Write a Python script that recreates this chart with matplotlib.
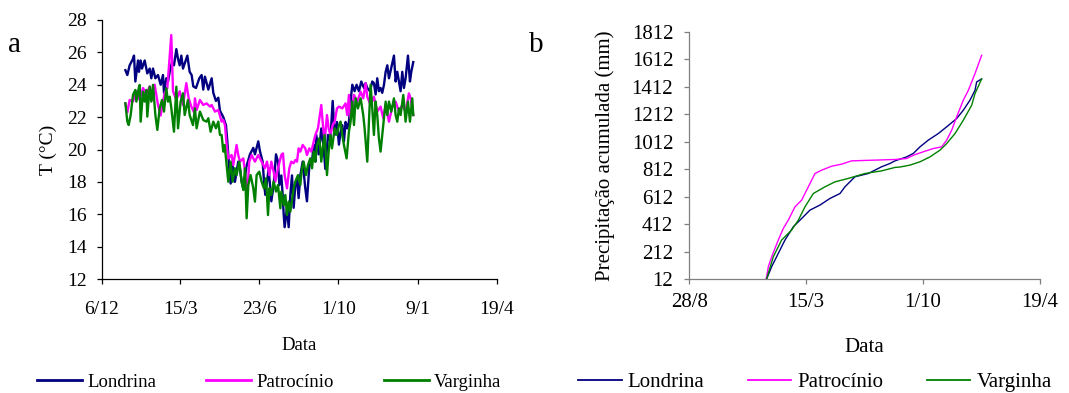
import numpy as np
import matplotlib
matplotlib.use('Agg')
import matplotlib.pyplot as plt
from matplotlib.lines import Line2D

plt.rcParams['font.family'] = ['Liberation Serif', 'DejaVu Serif']

# ---------------- data ----------------
series_names = ['Londrina', 'Patrocínio', 'Varginha']
series_colors = ['#000080', '#FF00FF', '#008000']

# panel a: daily mean temperature (day of year, deg C)
lon_day = [3.9, 6.4, 9.3, 13.5, 14.8, 16.5, 19.9, 21.1, 23.2, 24.9,
           28.3, 31.6, 34.6, 36.7, 38.8, 41.8, 45.1, 48.5, 51.4, 52.7,
           55.6, 57.8, 59.9, 62.8, 65.3, 68.3, 70.4, 72.5, 74.6, 76.7,
           82.2, 85.1, 87.6, 89.7, 93.1, 97.3, 100.2, 102.3, 104.4, 108.7,
           112.9, 115.0, 118.3, 121.3, 123.4, 127.6, 131.0, 132.7, 135.2, 136.9,
           139.4, 142.3, 146.5, 148.7, 150.8, 152.9, 157.1, 161.3, 165.5, 167.6,
           171.8, 173.9, 177.3, 179.4, 180.7, 182.8, 184.9, 188.3, 191.2, 194.2,
           196.7, 198.4, 200.9, 202.6, 203.9, 205.1, 208.1, 210.2, 212.3, 214.4,
           216.5, 218.6, 220.7, 222.8, 224.9, 227.9, 231.2, 233.3, 236.3, 239.7,
           241.8, 243.9, 245.1, 248.1, 251.4, 254.4, 256.5, 259.9, 262.8, 265.8,
           268.3, 271.2, 273.7, 275.8, 277.9, 280.0, 282.1, 284.2, 286.3, 289.3,
           290.6, 293.5, 296.0, 299.0, 301.9, 305.3, 307.4, 309.5, 312.9, 315.8,
           317.9, 320.0, 322.1, 324.2, 326.3, 328.4, 330.6, 332.7, 334.8, 336.9,
           343.2, 345.3, 347.4, 349.5, 351.6, 353.7, 355.8, 357.9, 360.9, 363.4,
           365.1, 367.6]
lon_temp = [24.9, 24.6, 25.2, 25.6, 25.8, 24.2, 25.5, 24.8, 25.5, 25.0,
            25.5, 24.7, 25.0, 24.4, 25.0, 24.4, 24.6, 24.0, 24.6, 23.5,
            24.4, 24.2, 24.8, 25.4, 25.2, 26.2, 25.6, 25.2, 25.8, 25.0,
            25.8, 24.8, 24.6, 23.9, 23.8, 24.4, 24.6, 23.7, 24.5, 23.7,
            24.4, 23.5, 23.0, 23.2, 22.4, 22.0, 21.5, 20.5, 18.8, 17.9,
            19.0, 18.0, 19.25, 18.8, 18.0, 17.6, 19.0, 19.7, 20.1, 19.7,
            20.5, 19.9, 19.25, 17.8, 17.2, 18.0, 18.8, 16.8, 17.8, 19.7,
            19.25, 17.8, 18.4, 17.2, 16.0, 15.2, 16.4, 15.2, 17.2, 18.4,
            16.4, 17.8, 18.2, 17.0, 18.4, 19.25, 17.6, 16.8, 19.0, 19.25,
            20.3, 19.25, 20.9, 19.7, 21.3, 20.1, 18.8, 20.9, 20.5, 23.0,
            20.9, 21.7, 20.3, 21.1, 21.5, 20.5, 21.7, 21.3, 21.7, 23.4,
            24.0, 23.6, 24.0, 23.6, 24.2, 23.8, 24.1, 23.8, 23.6, 24.2,
            24.1, 23.4, 24.4, 23.6, 23.8, 23.5, 24.0, 24.8, 25.2, 24.4,
            25.8, 24.2, 24.8, 24.2, 23.6, 24.8, 23.8, 24.4, 25.8, 24.2,
            24.8, 25.4]

pat_day = [3.9, 6.4, 9.3, 13.5, 17.8, 22.0, 26.2, 30.4, 34.6, 38.8,
           40.9, 45.1, 48.5, 53.5, 56.9, 61.9, 64.1, 68.3, 72.5, 76.7,
           80.9, 83.9, 87.2, 90.6, 91.8, 93.9, 98.1, 102.3, 106.5, 110.8,
           112.9, 117.1, 121.3, 125.5, 127.6, 129.7, 131.8, 133.9, 138.1, 140.2,
           144.4, 146.5, 148.7, 152.9, 155.0, 157.9, 160.4, 163.4, 167.6, 171.8,
           176.0, 180.2, 182.8, 185.8, 188.3, 191.2, 193.3, 196.7, 200.9, 203.0,
           205.1, 208.1, 211.0, 213.5, 216.5, 218.6, 220.7, 222.8, 224.9, 227.9,
           231.2, 233.3, 236.3, 238.8, 241.8, 243.9, 247.2, 251.4, 253.1, 255.6,
           258.6, 260.7, 262.8, 265.8, 268.3, 271.2, 273.7, 277.9, 282.1, 284.2,
           286.3, 288.4, 292.7, 296.9, 301.1, 304.4, 307.4, 309.5, 313.7, 317.9,
           322.1, 326.3, 329.7, 332.7, 336.9, 341.1, 345.3, 349.5, 353.7, 357.9,
           362.1, 364.2, 367.6]
pat_temp = [22.85, 22.3, 23.06, 22.96, 23.6, 23.06, 23.8, 23.4, 23.9, 23.06,
            24.0, 22.75, 22.1, 23.5, 23.8, 27.07, 23.6, 23.06, 23.6, 22.75,
            24.1, 23.16, 22.65, 22.3, 23.16, 22.44, 23.06, 22.75, 22.85, 22.65,
            22.75, 22.34, 22.44, 21.72, 21.82, 21.51, 20.28, 19.45, 19.66, 19.04,
            20.28, 19.66, 19.25, 19.45, 18.63, 17.19, 19.25, 19.66, 19.25, 19.66,
            19.25, 18.84, 19.25, 18.42, 19.25, 18.63, 18.01, 18.84, 19.66, 19.76,
            18.42, 17.60, 18.84, 19.25, 19.15, 19.35, 19.25, 20.07, 19.87, 20.28,
            20.07, 19.66, 20.07, 19.87, 20.48, 20.90, 21.31, 22.75, 21.72, 20.48,
            22.13, 21.31, 20.90, 21.51, 21.72, 22.54, 22.65, 22.54, 22.85, 22.13,
            23.37, 21.93, 23.37, 22.96, 23.57, 23.16, 24.09, 23.26, 22.75, 23.26,
            22.34, 22.65, 21.93, 22.75, 21.72, 22.65, 22.96, 22.34, 22.75, 22.34,
            23.47, 23.16, 22.13]

var_day = [3.9, 6.4, 8.1, 10.6, 13.5, 16.5, 17.8, 20.7, 22.0, 23.2,
           26.2, 28.3, 30.4, 31.6, 34.6, 36.7, 38.8, 41.8, 44.3, 47.2,
           50.2, 52.7, 55.6, 57.8, 59.9, 62.0, 65.3, 68.3, 70.4, 73.7,
           76.7, 78.8, 83.0, 85.1, 89.3, 91.8, 93.9, 98.1, 102.3, 106.5,
           108.7, 111.6, 115.0, 118.3, 121.3, 123.4, 125.5, 127.6, 129.3, 131.8,
           133.9, 136.9, 139.4, 142.3, 144.4, 147.8, 150.8, 152.9, 155.0, 157.1,
           159.2, 162.1, 165.5, 167.6, 169.7, 173.1, 176.0, 179.0, 181.6, 184.1,
           185.8, 188.3, 191.2, 194.2, 196.7, 199.7, 200.9, 203.9, 206.0, 208.1,
           210.2, 212.3, 216.5, 218.6, 222.0, 224.9, 227.0, 229.1, 232.1, 234.6,
           237.5, 239.7, 241.8, 243.9, 246.0, 248.9, 251.4, 253.1, 255.6, 258.6,
           260.7, 262.8, 264.9, 268.3, 271.2, 273.7, 275.8, 277.9, 280.0, 283.4,
           286.3, 288.4, 290.6, 292.7, 294.8, 297.7, 301.1, 304.4, 306.1, 309.5,
           311.6, 313.7, 315.8, 317.9, 320.0, 322.1, 324.2, 326.3, 328.4, 330.6,
           332.7, 334.8, 336.9, 339.8, 343.2, 345.3, 347.4, 349.5, 351.6, 355.0,
           357.9, 360.9, 363.4, 366.3, 367.6]
var_temp = [22.85, 21.72, 21.51, 22.13, 23.37, 23.68, 22.96, 23.78, 23.99, 21.72,
            23.57, 22.96, 23.68, 22.03, 23.88, 22.96, 23.99, 22.13, 21.21, 22.54,
            23.06, 22.34, 23.78, 22.96, 23.26, 22.54, 21.10, 23.88, 21.31, 22.96,
            23.47, 22.13, 23.06, 22.13, 21.51, 22.54, 21.31, 22.34, 21.82, 21.72,
            21.93, 21.10, 21.72, 21.31, 21.72, 20.90, 20.90, 19.87, 20.28, 19.04,
            18.01, 19.25, 18.01, 18.84, 18.42, 19.25, 18.01, 17.50, 18.84, 15.75,
            17.81, 18.42, 17.60, 16.78, 18.42, 18.63, 18.01, 17.60, 18.22, 15.95,
            17.60, 17.19, 18.01, 17.40, 17.81, 16.37, 17.40, 16.57, 17.19, 15.95,
            16.78, 16.16, 17.60, 18.01, 18.42, 17.81, 18.84, 19.25, 18.42, 19.04,
            19.45, 18.84, 19.87, 19.25, 20.28, 20.69, 19.25, 20.07, 20.90, 18.42,
            19.87, 20.90, 20.07, 21.31, 20.90, 21.51, 21.72, 20.90, 20.28, 19.45,
            21.10, 21.72, 22.96, 21.51, 23.16, 22.54, 23.16, 22.13, 21.31, 19.25,
            21.72, 23.99, 22.54, 20.90, 22.96, 22.13, 20.69, 19.87, 20.90, 21.93,
            22.96, 22.13, 22.96, 22.34, 23.16, 22.13, 21.72, 22.54, 22.13, 23.37,
            21.72, 22.96, 21.72, 23.16, 22.13]

# panel b: accumulated precipitation (day of year, mm)
lon_pday = [6.1, 14.7, 26.0, 37.4, 51.7, 63.1, 80.1, 97.2, 114.3, 131.4,
            139.9, 157.0, 179.8, 202.5, 216.8, 225.3, 245.2, 256.6, 268.0, 282.2,
            299.3, 313.6, 330.6, 342.0, 353.4, 362.0, 364.8, 373.3]
lon_prec = [12, 102, 199, 296, 393, 441, 514, 551, 599, 635,
            684, 757, 781, 830, 854, 873, 902, 927, 975, 1024,
            1072, 1121, 1181, 1242, 1315, 1387, 1448, 1470]

pat_pday = [5.0, 6.1, 9.0, 14.7, 26.0, 34.6, 43.1, 54.5, 65.9, 77.3,
            88.7, 100.1, 117.1, 134.2, 151.3, 225.3, 245.0, 256.6, 273.7, 290.8,
            305.0, 313.6, 322.1, 330.6, 342.0, 350.6, 362.0, 373.3]
pat_prec = [12, 29, 102, 174, 296, 381, 441, 538, 587, 684,
            781, 805, 834, 849, 873, 883, 890, 914, 939, 963,
            975, 1024, 1096, 1193, 1315, 1387, 1509, 1642]

var_pday = [6.0, 17.5, 31.7, 48.8, 60.2, 71.6, 85.8, 105.8, 122.8, 145.6,
            174.1, 202.5, 225.3, 233.9, 250.9, 268.0, 285.1, 302.2, 313.6, 327.8,
            342.0, 356.3, 362.0, 373.3]
var_prec = [12, 174, 296, 369, 441, 538, 635, 684, 720, 745,
            781, 800, 825, 828, 842, 866, 902, 951, 999, 1072,
            1169, 1278, 1363, 1470]

# axis ticks (day of year relative to 1 Jan)
tempA_ticks = [-26, 73, 173, 273, 373, 473]
tempA_labels = ['6/12', '15/3', '23/6', '1/10', '9/1', '19/4']
precB_ticks = [-126, 73, 273, 473]
precB_labels = ['28/8', '15/3', '1/10', '19/4']
temp_yticks = list(range(12, 29, 2))
prec_yticks = list(range(12, 1813, 200))

temp_days = [lon_day, pat_day, var_day]
temp_vals = [lon_temp, pat_temp, var_temp]
prec_days = [lon_pday, pat_pday, var_pday]
prec_vals = [lon_prec, pat_prec, var_prec]
for d, v in zip(temp_days + prec_days, temp_vals + prec_vals):
    assert len(d) == len(v)

# ---------------- figure ----------------
W, H = 1069, 393
fig = plt.figure(figsize=(W / 100, H / 100), dpi=100)


def fx(px):
    return px / W


def fy(py):
    return 1 - py / H


axL = fig.add_axes([fx(101.7), fy(279), (496.7 - 101.7) / W, (279 - 20) / H])
axR = fig.add_axes([fx(689.3), fy(279), (1040 - 689.3) / W, (279 - 32) / H])

for d, v, c in zip(temp_days, temp_vals, series_colors):
    axL.plot(d, v, color=c, lw=1.7, solid_joinstyle='round')
for d, v, c in zip(prec_days, prec_vals, series_colors):
    axR.plot(d, v, color=c, lw=1.0)

# left axes styling
axL.set_xlim(-26, 473)
axL.set_ylim(12, 28)
axL.set_xticks(tempA_ticks)
axL.set_xticklabels(tempA_labels)
axL.set_yticks(temp_yticks)
for s in ['top', 'right']:
    axL.spines[s].set_visible(False)
for s in ['left', 'bottom']:
    axL.spines[s].set_color('black')
    axL.spines[s].set_linewidth(0.9)
axL.tick_params(axis='both', direction='out', length=3.6, width=0.9, labelsize=14, colors='black')
axL.tick_params(axis='x', pad=12)
axL.tick_params(axis='y', pad=7)
axL.set_xlabel('Data', fontsize=13.5, va='center')
axL.xaxis.set_label_coords(0.5, (279 - 345) / 259)
axL.set_ylabel('T (°C)', fontsize=14, va='center', ha='center')
axL.yaxis.set_label_coords((48 - 101.7) / 395, 0.5)

# right axes styling
gray = '#7f7f7f'
axR.set_xlim(-126, 473)
axR.set_ylim(12, 1812)
axR.set_xticks(precB_ticks)
axR.set_xticklabels(precB_labels)
axR.set_yticks(prec_yticks)
for s in ['top', 'right']:
    axR.spines[s].set_visible(False)
for s in ['left', 'bottom']:
    axR.spines[s].set_color(gray)
    axR.spines[s].set_linewidth(0.9)
axR.tick_params(axis='both', direction='out', length=3.6, width=0.9, labelsize=15,
                color=gray, labelcolor='black')
axR.tick_params(axis='x', pad=6.5)
axR.tick_params(axis='y', pad=8)
axR.set_xlabel('Data', fontsize=15, va='center')
axR.xaxis.set_label_coords(0.5, (279 - 348) / 247)
axR.set_ylabel('Precipitação acumulada (mm)', fontsize=15, va='center', ha='center')
axR.yaxis.set_label_coords((605 - 689.3) / 350.7, (279 - 156) / 247)

# legends
hL = [Line2D([], [], color=c, lw=2.0) for c in series_colors]
fig.legend(hL, series_names, loc='center left', bbox_to_anchor=(fx(37), fy(382)),
           ncol=3, frameon=False, fontsize=13.5, handlelength=2.4, handletextpad=0.27,
           columnspacing=2.67, borderpad=0, borderaxespad=0)
hR = [Line2D([], [], color=c, lw=1.3) for c in series_colors]
fig.legend(hR, series_names, loc='center left', bbox_to_anchor=(fx(578), fy(382)),
           ncol=3, frameon=False, fontsize=15, handlelength=2.1, handletextpad=0.29,
           columnspacing=2.07, borderpad=0, borderaxespad=0)

# panel letters
fig.text(fx(8), fy(52), 'a', fontsize=21, va='baseline', ha='left')
fig.text(fx(529), fy(52), 'b', fontsize=21, va='baseline', ha='left')

fig.savefig('out.png', dpi=100)
